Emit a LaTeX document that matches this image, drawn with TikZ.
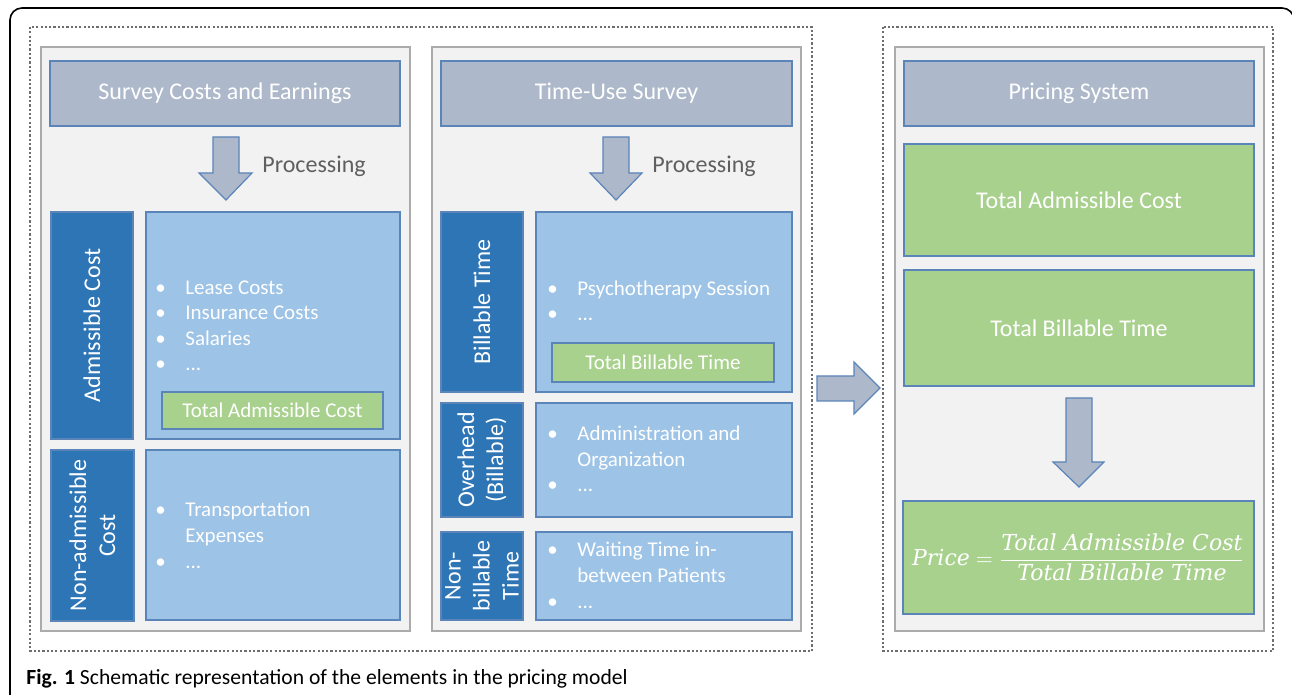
\documentclass[tikz,border=0pt]{standalone}
\usepackage{fontspec}
\setmainfont{Carlito}
\newfontfamily\formulafont{DejaVu Serif}

\definecolor{hdrfill}{HTML}{ADB9CA}
\definecolor{edgeblue}{HTML}{5B84B8}
\definecolor{sidefill}{HTML}{2E75B6}
\definecolor{listfill}{HTML}{9DC3E6}
\definecolor{sumfill}{HTML}{A9D18E}
\definecolor{panelfill}{HTML}{F2F2F2}
\definecolor{paneledge}{HTML}{ABABAB}
\definecolor{dotgray}{HTML}{6E6E6E}
\definecolor{procgray}{HTML}{5F5F5F}

\newcommand{\itm}{\makebox[15pt][l]{\textbullet}}
\newcommand{\cnt}{\hspace*{15pt}}

\begin{document}
\begin{tikzpicture}[x=0.5pt, y=-0.5pt,
  frame/.style={draw=dotgray, line width=1.4pt, dash pattern=on 1.1pt off 1.05pt},
  panel/.style={draw=paneledge, fill=panelfill, line width=0.9pt},
  header/.style={draw=edgeblue, fill=hdrfill, line width=0.6pt},
  side/.style={draw=edgeblue, fill=sidefill, line width=0.6pt},
  listbox/.style={draw=edgeblue, fill=listfill, line width=0.6pt},
  sumbox/.style={draw=edgeblue, fill=sumfill, line width=0.6pt},
  blockarrow/.style={draw=edgeblue, fill=hdrfill, line width=0.6pt},
  txt/.style={text=white, inner sep=0, font=\fontsize{12}{14.5}\selectfont},
  txtsmall/.style={text=white, inner sep=0, font=\fontsize{10.5}{12.8}\selectfont},
  list/.style={text=white, anchor=base west, inner sep=0, align=left, font=\fontsize{10.5}{12.8}\selectfont},
  proc/.style={text=procgray, anchor=base west, inner sep=0, font=\fontsize{12}{14}\selectfont}]
\useasboundingbox (0,0) rectangle (1292,695);

% figure frame and dotted groups
\draw[line width=0.8pt, rounded corners=6pt] (10,720) -- (10,8) -- (1294,8) -- (1294,720);
\draw[frame] (30,27) rectangle (812,651);
\draw[frame] (883,27) rectangle (1273,651);

\draw[panel] (41,47) rectangle (410,631);
\draw[panel] (432,47) rectangle (801,631);
\draw[panel] (895,47) rectangle (1264,631);

% headers
\draw[header] (50,61) rectangle (400,126) node[pos=.5, txt] (survey) {Survey Costs and Earnings};
\draw[header] (441,61) rectangle (792,126) node[pos=.5, txt] (timeuse) {Time-Use Survey};
\draw[header] (904,61) rectangle (1254,126) node[pos=.5, txt] (pricing) {Pricing System};

% processing arrows
\draw[blockarrow] (213,137) -- (239,137) -- (239,173) -- (252,173) -- (226,200) -- (199,173) -- (213,173) -- cycle;
\node[proc] (procA) at (262,173) {Processing};
\draw[blockarrow] (603,137) -- (629,137) -- (629,173) -- (642,173) -- (616,200) -- (590,173) -- (603,173) -- cycle;
\node[proc] (procB) at (652,173) {Processing};

% cost survey (list nodes sit on the baseline of their last line)
\draw[side] (51,212) rectangle (133,439) node[pos=.5, txt, rotate=90] (admiss) {Admissible Cost};
\draw[side] (51,450) rectangle (134,621) node[pos=.5, txt, rotate=90, align=center] (nonadmiss) {Non-admissible\\Cost};
\draw[listbox] (146,212) rectangle (400,439);
\draw[listbox] (146,450) rectangle (400,620);
\node[list] (costlist) at (155,371) {\itm Lease Costs\\ \itm Insurance Costs\\ \itm Salaries\\ \itm ...};
\draw[sumbox] (162,392) rectangle (383,429) node[pos=.5, txtsmall] (costsumA) {Total Admissible Cost};
\node[list] (otherlist) at (155,568) {\itm Transportation\\ \cnt Expenses\\ \itm ...};

% time-use survey
\draw[side] (441,212) rectangle (523,392) node[pos=.5, txt, rotate=90] (billable) {Billable Time};
\draw[side] (441,403) rectangle (523,517) node[pos=.5, txt, rotate=90, align=center] (overhead) {Overhead\\(Billable)};
\draw[side] (441,532) rectangle (523,620) node[pos=.5, txt, rotate=90, align=center] (nonbill) {Non-\\billable\\Time};
\draw[listbox] (536,212) rectangle (792,392);
\draw[listbox] (536,403) rectangle (792,517);
\draw[listbox] (536,532) rectangle (792,620);
\node[list] (sessionlist) at (547,321) {\itm Psychotherapy Session\\ \itm ...};
\draw[sumbox] (552,343) rectangle (774,382) node[pos=.5, txtsmall] (timesumA) {Total Billable Time};
\node[list] (adminlist) at (547,492) {\itm Administration and\\ \cnt Organization\\ \itm ...};
\node[list] (waitlist) at (547,608) {\itm Waiting Time in-\\ \cnt between Patients\\ \itm ...};

% into the pricing system
\draw[blockarrow] (817,376) -- (854,376) -- (854,362) -- (880,388) -- (854,414) -- (854,401) -- (817,401) -- cycle;

% pricing system
\draw[sumbox] (904,144) rectangle (1254,256) node[pos=.5, txt] (costsumB) {Total Admissible Cost};
\draw[sumbox] (904,270) rectangle (1254,386) node[pos=.5, txt] (timesumB) {Total Billable Time};
\draw[blockarrow] (1066,398) -- (1092,398) -- (1092,462) -- (1104,462) -- (1079,487) -- (1053,462) -- (1066,462) -- cycle;
\draw[sumbox] (903,501) rectangle (1254,614) node[pos=.5, txt, font=\formulafont\itshape\fontsize{11}{13}\selectfont] (price)
  {$\mbox{Price} = \displaystyle\frac{\mbox{Total Admissible Cost}}{\mbox{Total Billable Time}}$};

\node[anchor=base west, inner sep=0, font=\fontsize{10.8}{12.5}\selectfont] (caption) at (26,684)
  {\textbf{Fig. 1} Schematic representation of the elements in the pricing model};
\end{tikzpicture}
\end{document}
